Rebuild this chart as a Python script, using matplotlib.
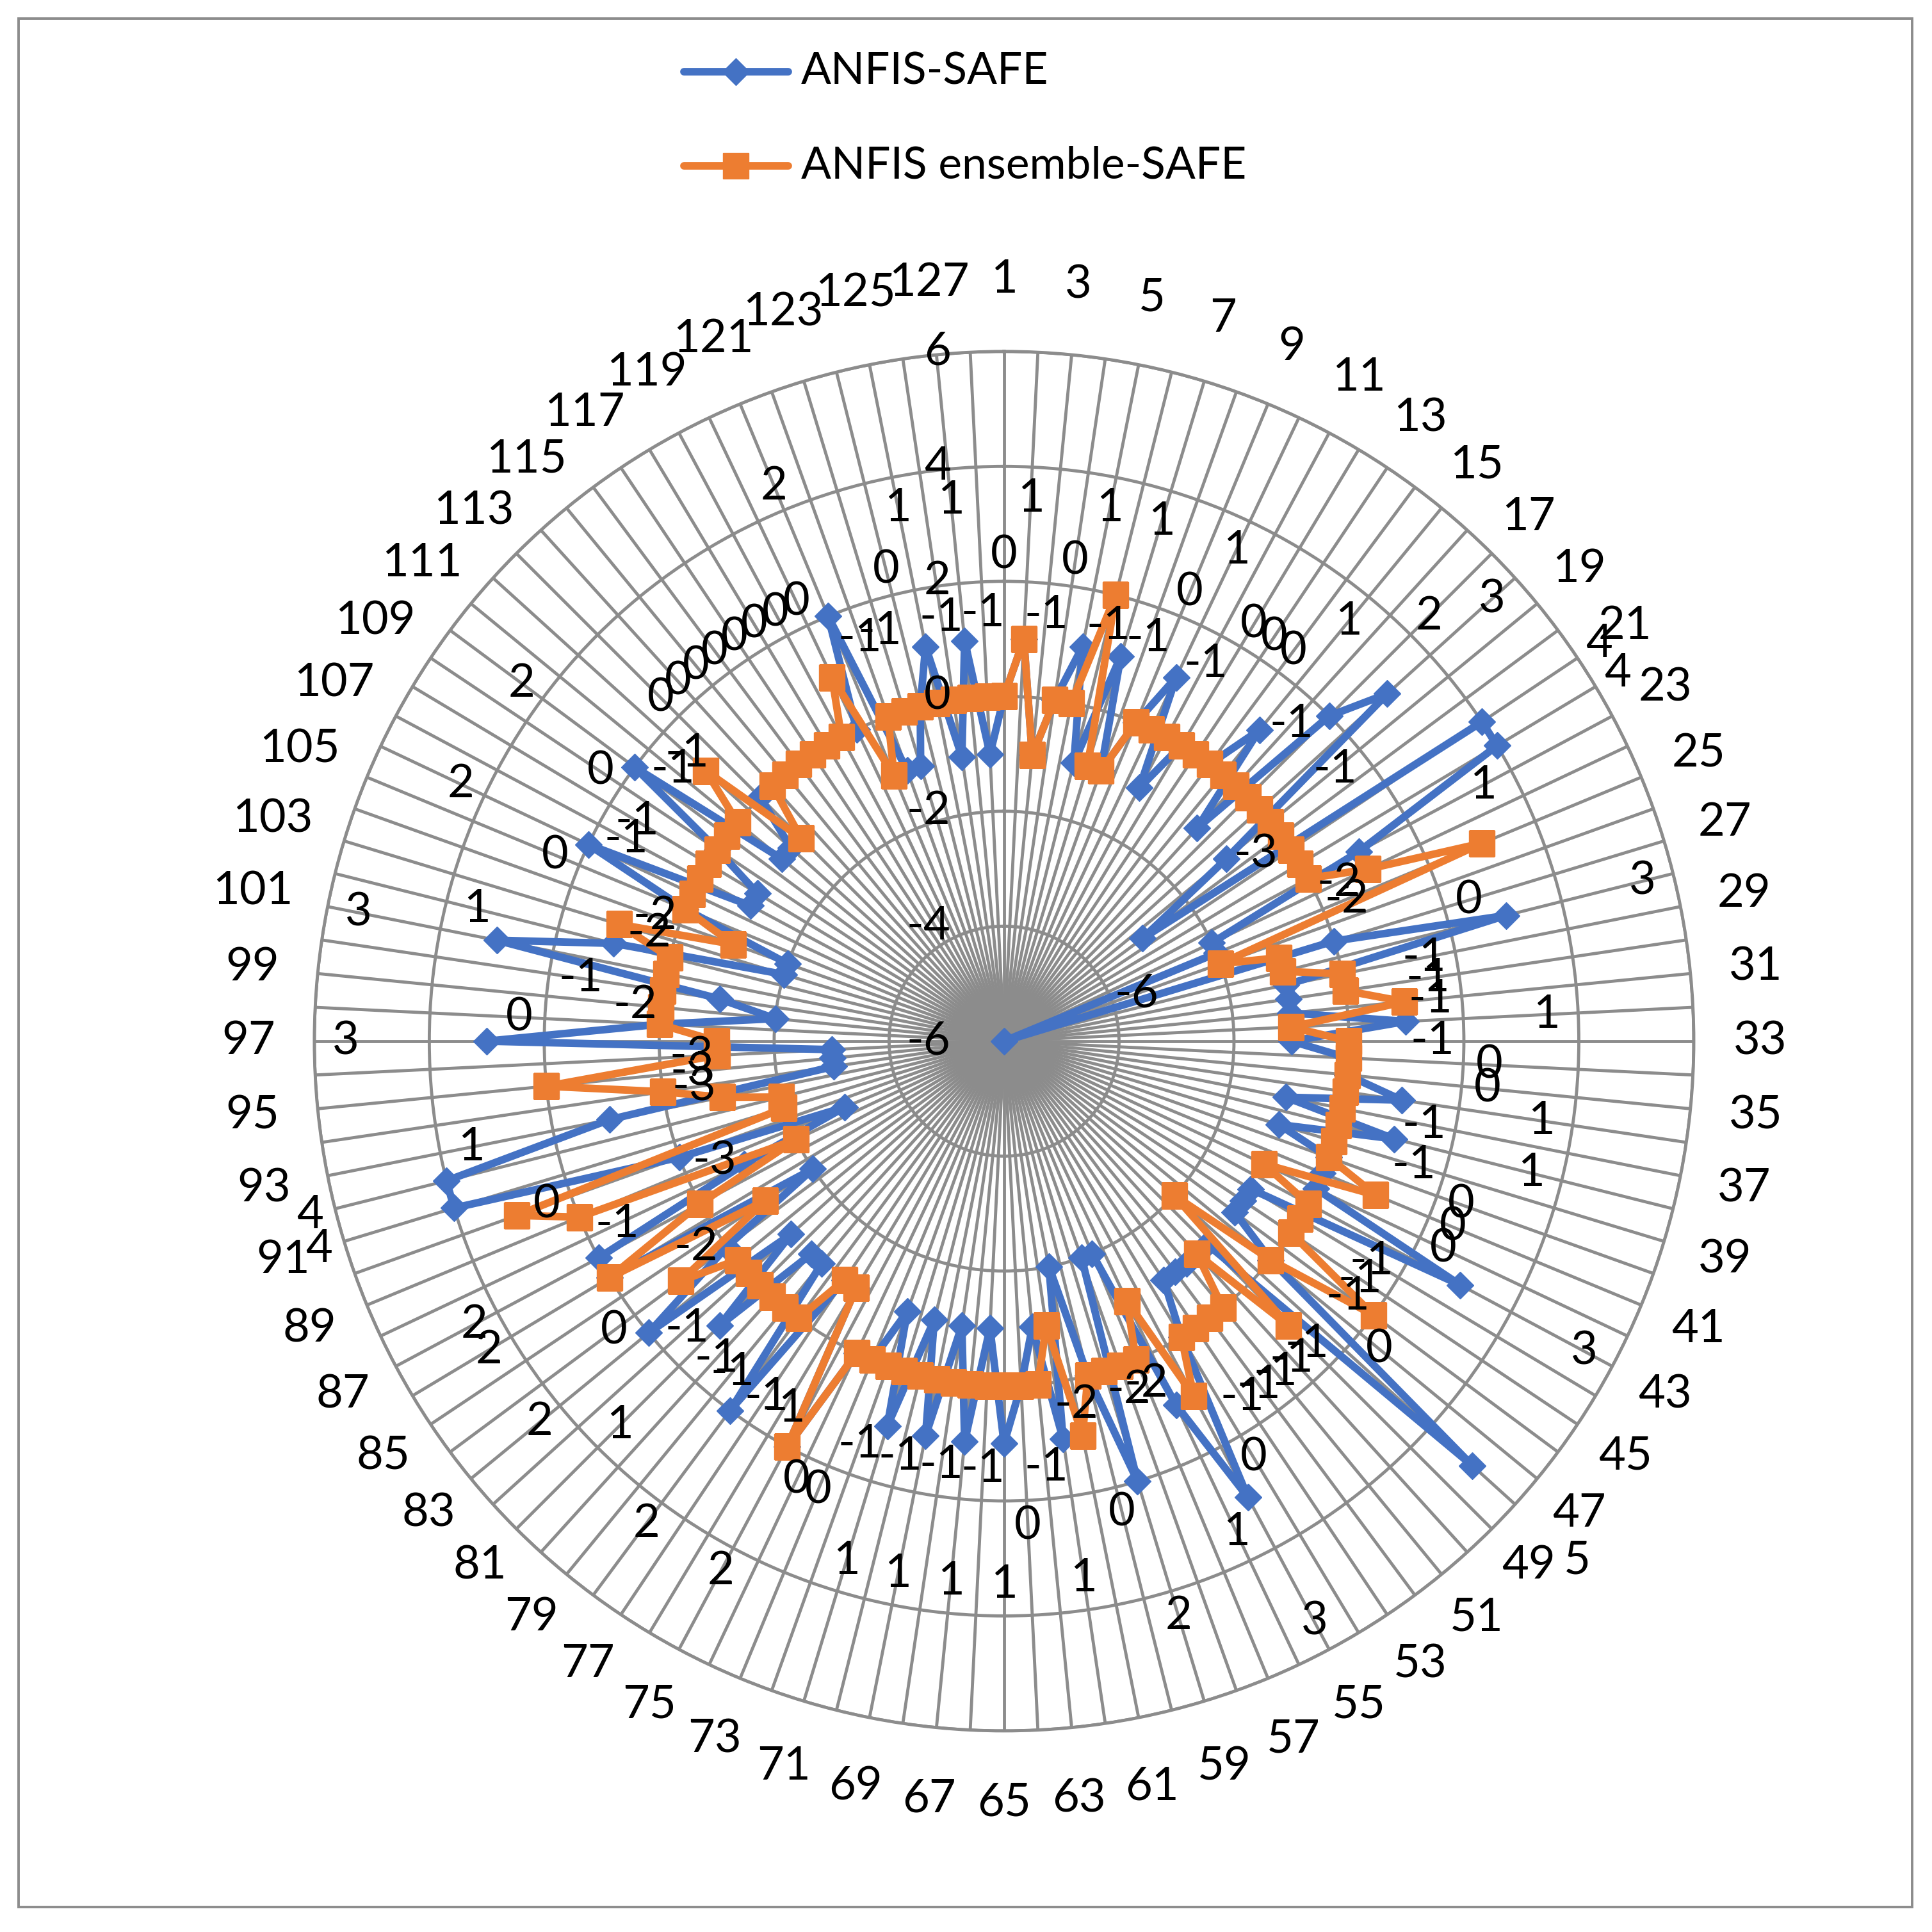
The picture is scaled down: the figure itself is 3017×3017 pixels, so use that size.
import numpy as np
import matplotlib.pyplot as plt
from matplotlib.lines import Line2D
from matplotlib.patches import Rectangle

plt.rcParams['font.family'] = ['Lato', 'DejaVu Sans']

# categories 1..128 around the radar
categories = list(range(1, 129))

# ANFIS-SAFE (blue)
anfis_safe = [0, 1, -1, 0, 1, -1, 1, -1, 0, 1,
              -1, 0, 0, 0, 1, -1, 2, 3, -1, -3,
              4, 4, 1, -2, -2, -6, 0, 3, -1, -1,
              -1, 1, -1, 0, 0, 1, -1, 1, -1, 0,
              0, 0, 3, -1, -1, -1, 0, 5, -1, -1,
              -1, -1, -1, 0, 3, 1, -2, -2, 2, 0,
              -2, 1, -1, 0, 1, -1, 1, -1, 1, -1,
              1, -1, 0, 0, 2, -1, -1, 2, -1, -1,
              1, -1, 2, 0, -2, 2, 2, -1, -3, 0,
              4, 4, 1, -3, -3, -3, 3, 0, -2, -1,
              3, 1, -2, -2, 0, 2, -1, -1, 0, 2,
              -1, -1, 0, 0, 0, 0, 0, 0, 0, 0,
              2, -1, -1, 0, 1, -1, 1, -1]

# ANFIS ensemble-SAFE (orange)
ensemble_safe = [0, 1, -1, 0, 0, 2, -1, -1, 0, 0,
                 0, 0, 0, 0, 0, 0, 0, 0, 0, 0,
                 0, 0, 0, 1, 3, -2, -1, -1, 0, 0,
                 1, -1, 0, 0, 0, 0, 0, 0, 0, 0,
                 1, -1, 0, 0, 0, 2, 0, -2, 1, -1,
                 0, 0, 0, 0, 1, -1, 0, 0, 0, 0,
                 1, -1, 0, 0, 0, 0, 0, 0, 0, 0,
                 0, 0, 0, 0, 2, -1, -1, 0, 0, 0,
                 0, 0, 0, 1, -1, 2, 0, -2, 2, 3,
                 -2, -2, -1, 0, 2, -1, -1, 0, 0, 0,
                 0, 0, 1, -1, 0, 0, 0, 0, 0, 0,
                 0, 1, -1, 0, 0, 0, 0, 0, 0, 1,
                 -1, 0, 0, 0, 0, 0, 0, 0]

r_ticks = [-6, -4, -2, 0, 2, 4, 6]

blue = '#4472C4'
orange = '#ED7D31'
grid_c = '#8C8C8C'
fs = 50      # legend
fs_num = 52  # numbers on the chart

n = len(categories)
theta = np.arange(n) * 2 * np.pi / n
th = np.append(theta, theta[0])

fig = plt.figure(figsize=(30.17, 30.17), dpi=100)
ax = fig.add_axes([0.1627, 0.1041, 0.714, 0.714], projection='polar')
ax.set_theta_zero_location('N')
ax.set_theta_direction(-1)
ax.set_ylim(-6, 6)
ax.set_xticks(theta)
ax.set_xticklabels([])
ax.set_yticks(r_ticks[1:])
ax.set_yticklabels([])
ax.tick_params(length=0)
ax.grid(True, color=grid_c, lw=3.5)
ax.spines['polar'].set_color(grid_c)
ax.spines['polar'].set_linewidth(3.5)
ax.set_axisbelow(True)

ax.plot(th, np.append(anfis_safe, anfis_safe[0]), color=blue, lw=8.5,
        marker='D', ms=21, mfc=blue, mec=blue, zorder=3)
ax.plot(th, np.append(ensemble_safe, ensemble_safe[0]), color=orange, lw=8.5,
        marker='s', ms=29, mfc=orange, mec=orange, zorder=4)

# data labels of the blue series, pushed outwards
for t, v in zip(theta, anfis_safe):
    ax.text(t, v + 2.45, str(int(round(v))), ha='center', va='center',
            fontsize=fs_num, zorder=6)

# category labels (odd ones only), a little closer in on the diagonals
for t, c in zip(theta, categories):
    if c % 2 == 1:
        s = str(c)
        rr = (6.85 + 0.3 * abs(np.cos(2 * t)) + 0.1 * np.cos(t) ** 2
              + 0.2 * (len(s) - 2) * abs(np.sin(t)))
        ax.text(t, rr, s, ha='center', va='center', fontsize=fs_num,
                clip_on=False)

# radial axis labels
for v in r_ticks:
    ax.annotate(str(v), xy=(0, v), xytext=(-60, 0), textcoords='offset points',
                ha='right', va='center', fontsize=fs_num, zorder=6)

# legend
for y, col, mk, ms, name in [(0.963, blue, 'D', 21, 'ANFIS-SAFE'),
                             (0.914, orange, 's', 29, 'ANFIS ensemble-SAFE')]:
    fig.add_artist(Line2D([0.354, 0.381, 0.408], [y, y, y], transform=fig.transFigure,
                          color=col, lw=8.5, marker=mk, ms=ms, markevery=[1],
                          mfc=col, mec=col, solid_capstyle='round'))
    fig.text(0.4145, y, name, ha='left', va='center', fontsize=fs)

fig.add_artist(Rectangle((0.0096, 0.0129), 0.980, 0.9775, transform=fig.transFigure,
                         fill=False, edgecolor=grid_c, lw=2.8))

fig.savefig('out.png', dpi=100, facecolor='white')
